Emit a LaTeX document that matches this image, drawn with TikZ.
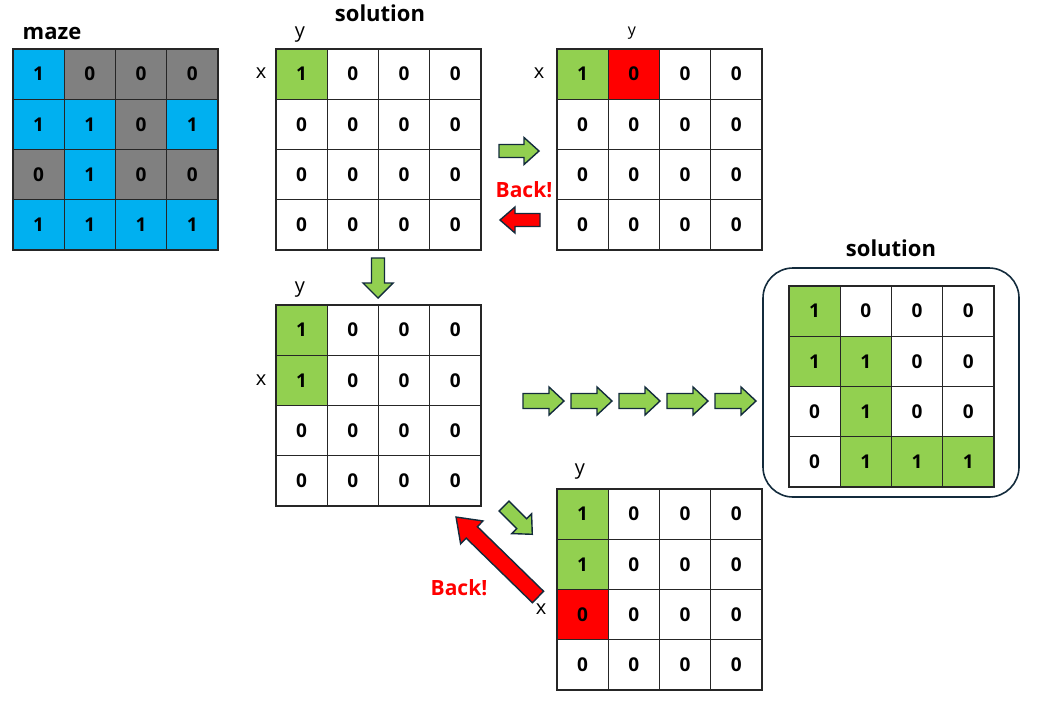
\documentclass[tikz,border=0pt]{standalone}
\usepackage{fontspec}
\setmainfont{Open Sans}[BoldFont={Open Sans Bold}]
\definecolor{mblue}{HTML}{00B0F0}
\definecolor{mgrey}{HTML}{808080}
\definecolor{mgreen}{HTML}{92D050}
\definecolor{mred}{HTML}{FF0000}
\definecolor{navy}{HTML}{132B3C}
\tikzset{
 cell/.style={draw=black!85, line width=1.1pt, minimum width=51.25pt, minimum height=50.25pt, inner sep=0pt, font=\fontsize{19}{19}\selectfont\bfseries},
 title/.style={inner sep=0pt, font=\fontsize{22}{22}\selectfont\bfseries},
 axislbl/.style={inner sep=0pt, font=\fontsize{20}{20}\selectfont},
 smallaxis/.style={inner sep=0pt, font=\fontsize{16}{16}\selectfont},
 backlbl/.style={inner sep=0pt, text=mred, font=\fontsize{21}{21}\selectfont\bfseries},
 arrowline/.style={draw=navy, line width=1.4pt, line join=miter},
 solbox/.style={draw=navy, line width=1.6pt, rounded corners=30pt, minimum width=256pt, minimum height=229pt, inner sep=0pt},
}
\newcommand\mazegrid[4]{%
 \foreach \val/\fil [count=\i from 0] in {#4} {
  \pgfmathtruncatemacro\rr{div(\i,4)}
  \pgfmathtruncatemacro\cc{mod(\i,4)}
  \node[cell, fill=\fil] (#1-\rr-\cc) at ({#2+(\cc+0.5)*51.25},{#3+(\rr+0.5)*50.25}) {\val};
 }}
% name, x, y, angle, length, shaft, head width, head length, fill
\newcommand\blockarrow[9]{%
 \begin{scope}[shift={(#2,#3)}, rotate=#4]
  \path[arrowline, fill=#9] (0,-#6/2) -- ({#5-#8},-#6/2) -- ({#5-#8},-#7/2) -- (#5,0)
   -- ({#5-#8},#7/2) -- ({#5-#8},#6/2) -- (0,#6/2) -- cycle;
  \coordinate (#1) at (#5/2,0);
 \end{scope}}
\begin{document}
\begin{tikzpicture}[x=1pt,y=-1pt]
\useasboundingbox (0,0) rectangle (1048,705);
% maze
\node[title] (mazet) at (52,33) {maze};
\mazegrid{mz}{13}{49}{1/mblue,0/mgrey,0/mgrey,0/mgrey,
 1/mblue,1/mblue,0/mgrey,1/mblue,
 0/mgrey,1/mblue,0/mgrey,0/mgrey,
 1/mblue,1/mblue,1/mblue,1/mblue}
% grid 1
\node[title] (solt1) at (380,13) {solution};
\node[axislbl] (y1) at (300,35) {y};
\node[axislbl] (x1) at (261,73) {x};
\mazegrid{ga}{276}{49}{1/mgreen,0/white,0/white,0/white,
 0/white,0/white,0/white,0/white,
 0/white,0/white,0/white,0/white,
 0/white,0/white,0/white,0/white}
% grid 2
\node[smallaxis] (y2) at (632,33) {y};
\node[axislbl] (x2) at (539,73) {x};
\mazegrid{gb}{557}{49}{1/mgreen,0/mred,0/white,0/white,
 0/white,0/white,0/white,0/white,
 0/white,0/white,0/white,0/white,
 0/white,0/white,0/white,0/white}
\blockarrow{a1}{499}{151}{0}{40}{13}{27}{15}{mgreen}
\node[backlbl] (back1) at (524,190) {Back!};
\blockarrow{a2}{540}{220}{180}{40}{13}{26}{15}{mred}
\blockarrow{a3}{378}{258}{-90}{40}{13}{30}{15}{mgreen}
% grid 3
\node[axislbl] (y3) at (300,290) {y};
\node[axislbl] (x3) at (261,380) {x};
\mazegrid{gc}{276}{305}{1/mgreen,0/white,0/white,0/white,
 1/mgreen,0/white,0/white,0/white,
 0/white,0/white,0/white,0/white,
 0/white,0/white,0/white,0/white}
\foreach \k in {0,...,4} {
 \blockarrow{f\k}{523+48*\k}{401}{0}{41}{15}{28}{15}{mgreen}
}
% final solution
\node[solbox] (box) at (891,382.5) {};
\node[title] (solt2) at (891,248) {solution};
\mazegrid{gd}{789}{286}{1/mgreen,0/white,0/white,0/white,
 1/mgreen,1/mgreen,0/white,0/white,
 0/white,1/mgreen,0/white,0/white,
 0/white,1/mgreen,1/mgreen,1/mgreen}
% grid 4
\node[axislbl] (y4) at (580,472) {y};
\node[axislbl] (x4) at (541,609) {x};
\mazegrid{ge}{557}{489}{1/mgreen,0/white,0/white,0/white,
 1/mgreen,0/white,0/white,0/white,
 0/mred,0/white,0/white,0/white,
 0/white,0/white,0/white,0/white}
\blockarrow{a4}{504}{506}{-45}{40}{14}{28}{15}{mgreen}
\blockarrow{a5}{538}{597}{135.7}{114.5}{16}{32}{22}{mred}
\node[backlbl] (back2) at (459,588) {Back!};
\end{tikzpicture}
\end{document}
